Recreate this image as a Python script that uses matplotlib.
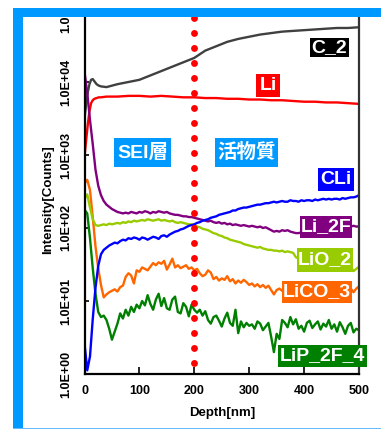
import matplotlib
matplotlib.use("Agg")
import matplotlib.pyplot as plt
from matplotlib.patches import Rectangle
from matplotlib.ticker import NullLocator
import numpy as np

plt.rcParams['font.family'] = ['Liberation Sans', 'Noto Sans CJK JP', 'DejaVu Sans']
plt.rcParams['font.weight'] = 'bold'
plt.rcParams['axes.labelweight'] = 'bold'

W, H = 381, 430

# depth grids [nm]
depth_fine = np.arange(0, 501, 5)
depth_coarse = [0, 3, 6, 9, 12, 15, 18, 22, 26, 30, 40, 50, 60, 80, 100, 120, 140, 160, 180,
                200, 220, 240, 260, 280, 300, 320, 340, 360, 380, 400, 420, 440, 460, 480, 500]

# log10(counts)
c2_log = [3.50, 3.70, 3.86, 3.97, 4.03, 4.04, 4.01, 3.97, 3.95, 3.94, 3.93, 3.95, 3.97, 4.00,
          4.03, 4.09, 4.15, 4.21, 4.27, 4.33, 4.43, 4.49, 4.55, 4.59, 4.62, 4.65, 4.67, 4.69,
          4.70, 4.71, 4.72, 4.73, 4.74, 4.74, 4.75]
li_log = [2.98, 3.20, 3.42, 3.60, 3.71, 3.75, 3.77, 3.78, 3.79, 3.79, 3.80, 3.80, 3.80, 3.81,
          3.81, 3.80, 3.81, 3.80, 3.79, 3.79, 3.78, 3.78, 3.77, 3.77, 3.76, 3.76, 3.75, 3.75,
          3.74, 3.73, 3.73, 3.72, 3.72, 3.71, 3.70]

cli_log = [0.42, 0.05, 0.24, 0.75, 1.18, 1.48, 1.64, 1.70, 1.73, 1.76,
           1.78, 1.80, 1.79, 1.82, 1.84, 1.83, 1.86, 1.85, 1.87, 1.86,
           1.84, 1.87, 1.86, 1.84, 1.86, 1.88, 1.87, 1.85, 1.89, 1.90,
           1.88, 1.91, 1.93, 1.95, 1.96, 1.98, 1.99, 2.01, 2.03, 2.04,
           2.05, 2.07, 2.08, 2.10, 2.11, 2.12, 2.14, 2.15, 2.16, 2.18,
           2.19, 2.20, 2.21, 2.22, 2.24, 2.24, 2.26, 2.27, 2.28, 2.28,
           2.29, 2.30, 2.31, 2.32, 2.32, 2.33, 2.34, 2.34, 2.35, 2.36,
           2.35, 2.36, 2.37, 2.36, 2.36, 2.38, 2.37, 2.37, 2.36, 2.38,
           2.37, 2.38, 2.38, 2.37, 2.39, 2.38, 2.39, 2.40, 2.39, 2.40,
           2.39, 2.40, 2.40, 2.39, 2.41, 2.40, 2.41, 2.42, 2.42, 2.43,
           2.45]

li2f_log = [4.14, 3.85, 3.48, 3.15, 2.80, 2.58, 2.45, 2.37, 2.32, 2.29,
            2.26, 2.24, 2.22, 2.21, 2.20, 2.21, 2.20, 2.22, 2.21, 2.20,
            2.22, 2.21, 2.23, 2.22, 2.20, 2.22, 2.21, 2.23, 2.22, 2.21,
            2.22, 2.20, 2.19, 2.18, 2.18, 2.17, 2.16, 2.16, 2.15, 2.15,
            2.14, 2.13, 2.12, 2.11, 2.10, 2.09, 2.10, 2.08, 2.07, 2.08,
            2.06, 2.07, 2.05, 2.06, 2.04, 2.05, 2.04, 2.03, 2.04, 2.03,
            2.02, 2.03, 2.02, 2.01, 2.02, 2.00, 2.01, 1.99, 1.97, 1.95,
            1.96, 1.95, 1.97, 1.96, 1.97, 1.95, 1.94, 1.93, 1.93, 1.94,
            1.95, 1.96, 1.97, 1.98, 1.99, 2.00, 2.01, 2.00, 2.01, 2.00,
            2.01, 2.00, 2.01, 2.02, 2.01, 2.02, 2.01, 2.02, 2.03, 2.02,
            2.02]

lio2_log = [2.40, 2.46, 2.28, 2.12, 2.04, 2.03, 2.04, 2.05, 2.04, 2.06,
            2.05, 2.06, 2.07, 2.06, 2.08, 2.07, 2.09, 2.08, 2.10, 2.09,
            2.10, 2.11, 2.10, 2.12, 2.11, 2.10, 2.11, 2.12, 2.10, 2.11,
            2.10, 2.09, 2.10, 2.08, 2.07, 2.08, 2.07, 2.06, 2.05, 2.05,
            2.04, 2.02, 2.01, 1.99, 1.98, 1.97, 1.95, 1.93, 1.92, 1.90,
            1.89, 1.87, 1.86, 1.84, 1.83, 1.82, 1.81, 1.80, 1.78, 1.77,
            1.76, 1.75, 1.74, 1.73, 1.74, 1.72, 1.71, 1.70, 1.70, 1.69,
            1.69, 1.68, 1.69, 1.67, 1.68, 1.67, 1.66, 1.60, 1.58, 1.57,
            1.56, 1.55, 1.54, 1.53, 1.53, 1.52, 1.51, 1.50, 1.50, 1.49,
            1.49, 1.48, 1.48, 1.47, 1.47, 1.46, 1.45, 1.46, 1.41, 1.44,
            1.47]

lico3_log = [2.61, 2.66, 2.52, 2.15, 1.75, 1.45, 1.22, 1.05, 1.09, 1.12,
             1.14, 1.16, 1.13, 1.19, 1.21, 1.33, 1.38, 1.35, 1.24, 1.42,
             1.40, 1.46, 1.44, 1.42, 1.47, 1.52, 1.49, 1.53, 1.51, 1.55,
             1.43, 1.50, 1.58, 1.46, 1.49, 1.45, 1.47, 1.49, 1.44, 1.46,
             1.42, 1.44, 1.38, 1.34, 1.36, 1.42, 1.39, 1.30, 1.33, 1.28,
             1.31, 1.29, 1.34, 1.27, 1.30, 1.24, 1.28, 1.25, 1.29, 1.26,
             1.22, 1.24, 1.20, 1.23, 1.19, 1.22, 1.18, 1.21, 1.15, 1.09,
             1.15, 1.17, 1.14, 1.16, 1.13, 1.15, 1.14, 1.16, 1.13, 1.15,
             1.14, 1.16, 1.13, 1.15, 1.14, 1.16, 1.15, 1.14, 1.16, 1.15,
             1.14, 1.16, 1.15, 1.17, 1.14, 1.16, 1.15, 1.17, 1.12, 1.17,
             1.20]

lip2f4_log = [2.25, 2.20, 1.86, 1.45, 1.10, 0.85, 0.78, 0.80, 0.74, 0.62,
              0.47, 0.58, 0.69, 0.83, 0.76, 0.88, 0.80, 0.92, 0.85, 0.95,
              0.90, 1.00, 0.94, 1.08, 0.96, 0.88, 1.02, 1.10, 0.93, 1.04,
              0.90, 0.88, 1.02, 1.06, 0.85, 0.83, 0.97, 0.92, 0.79, 0.95,
              0.88, 0.84, 0.88, 0.80, 0.86, 0.74, 0.69, 0.78, 0.80, 0.73,
              0.65, 0.76, 0.84, 0.70, 0.66, 0.88, 0.56, 0.72, 0.64, 0.70,
              0.66, 0.68, 0.62, 0.72, 0.69, 0.60, 0.65, 0.70, 0.51, 0.30,
              0.55, 0.48, 0.74, 0.70, 0.64, 0.78, 0.68, 0.75, 0.62, 0.66,
              0.58, 0.70, 0.73, 0.63, 0.68, 0.72, 0.61, 0.69, 0.65, 0.74,
              0.62, 0.68, 0.58, 0.71, 0.64, 0.55, 0.66, 0.70, 0.57, 0.62,
              0.60]

ytick_vals = [1, 10, 100, 1000, 10000, 100000]
ytick_labels = ["1.0E+00", "1.0E+01", "1.0E+02", "1.0E+03", "1.0E+04", "1.0E+05"]
xtick_vals = [0, 100, 200, 300, 400, 500]

fig = plt.figure(figsize=(W / 100, H / 100), dpi=100)
ax = fig.add_axes([84.5 / W, 1 - 374 / H, (359 - 84.5) / W, (374 - 9) / H])

ax.plot(depth_coarse, 10 ** np.array(c2_log), color='#404040', lw=1.7)
ax.plot(depth_coarse, 10 ** np.array(li_log), color='#FF0000', lw=1.7)
ax.plot(depth_fine, 10 ** np.array(lip2f4_log), color='#008000', lw=1.7)
ax.plot(depth_fine, 10 ** np.array(lico3_log), color='#FF6600', lw=1.7)
ax.plot(depth_fine, 10 ** np.array(lio2_log), color='#99CC00', lw=1.7)
ax.plot(depth_fine, 10 ** np.array(li2f_log), color='#800080', lw=1.7)
ax.plot(depth_fine, 10 ** np.array(cli_log), color='#0000FF', lw=1.7)

# boundary SEI / active material
ax.axvline(200, color='#FF0000', lw=5, ls=(0.575, (0.01, 2.15)), dash_capstyle='round')

ax.set_yscale('log')
ax.set_ylim(1, 1e5)
ax.set_xlim(0, 500)
ax.set_yticks(ytick_vals)
ax.set_yticklabels(ytick_labels, rotation=90, va='center', fontsize=9)
ax.yaxis.set_minor_locator(NullLocator())
ax.set_xticks(xtick_vals)
ax.set_xticklabels([str(v) for v in xtick_vals], fontsize=9)
ax.tick_params(axis='y', direction='in', length=3, width=1.2, pad=9)
ax.tick_params(axis='x', direction='in', length=5, width=1.2, pad=8)
for s in ['left', 'bottom', 'right']:
    ax.spines[s].set_linewidth(1.6)
ax.spines['right'].set_color('#333333')

ax.set_xlabel('Depth[nm]', fontsize=9.5, fontweight='bold')
ax.xaxis.label.set_va('center')
ax.xaxis.set_label_coords(0.5, (374 - 413) / 365)
ax.set_ylabel('Intensity[Counts]', fontsize=9.5, fontweight='bold')
ax.yaxis.label.set_va('center')
ax.yaxis.set_label_coords((48 - 84.5) / 274.5, (374 - 200) / 365)


def px_rect(x0, y0, x1, y1, color):
    r = Rectangle((x0 / W, 1 - y1 / H), (x1 - x0) / W, (y1 - y0) / H,
                  transform=fig.transFigure, facecolor=color, edgecolor='none')
    fig.add_artist(r)


def tag(x0, y0, x1, y1, text, color):
    px_rect(x0, y0, x1, y1, color)
    fig.text((x0 + x1) / 2 / W, 1 - (y0 + y1) / 2 / H, text, color='white',
             fontsize=14, fontweight='bold', ha='center', va='center')


tag(310, 38, 349, 57, 'C_2', '#000000')
tag(256, 74, 280, 97, 'Li', '#FF0000')
tag(114, 138, 171, 167, 'SEI層', '#0099FF')
tag(215, 138, 278, 167, '活物質', '#0099FF')
tag(318, 168, 354, 191, 'CLi', '#0000FF')
tag(300, 216, 352, 238, 'Li_2F', '#800080')
tag(297, 248, 353, 272, 'LiO_2', '#99CC00')
tag(282, 281, 352, 303, 'LiCO_3', '#FF6600')
tag(278, 345, 367, 367, 'LiP_2F_4', '#008000')

# frame
px_rect(0, 0, W, 8, 'white')
px_rect(13, 8, 22.7, 428, '#0099FF')
px_rect(13, 8, W, 17.3, '#0099FF')
px_rect(13, 427.8, W, 429, '#66BBFF')

fig.savefig('out.png', dpi=100)
